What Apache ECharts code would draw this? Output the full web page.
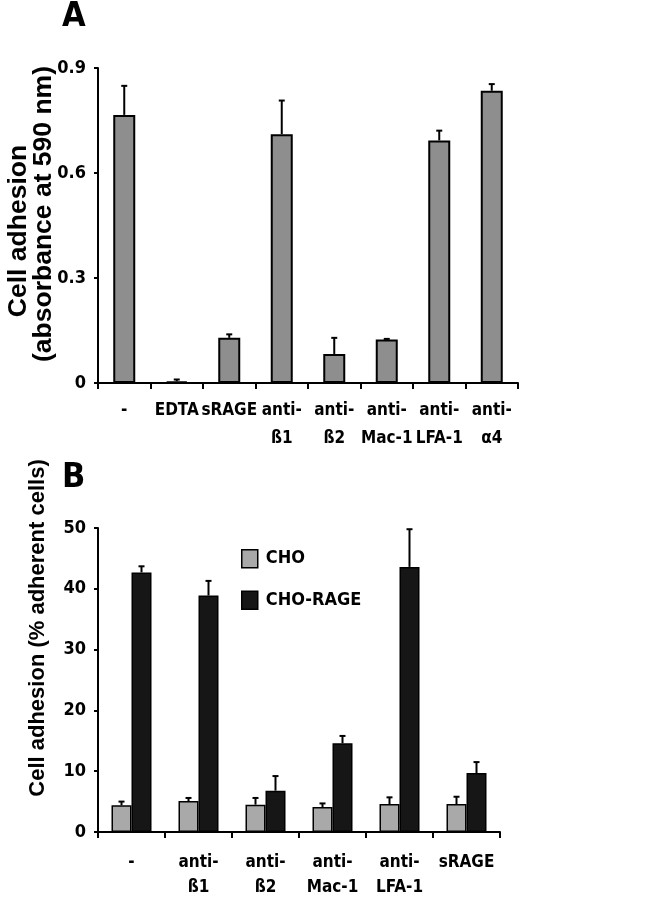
<!DOCTYPE html>
<html>
<head>
<meta charset="utf-8">
<script src="https://cdn.jsdelivr.net/npm/echarts@6/dist/echarts.min.js"></script>
<style>
  html, body { margin: 0; padding: 0; background: #fff; }
  #chart { width: 662px; height: 900px; }
</style>
</head>
<body>
<div id="chart"></div>
<script>
// ---------- Panel A data ----------
const catsA = ['-', 'EDTA', 'sRAGE', 'anti-\nß1', 'anti-\nß2', 'anti-\nMac-1', 'anti-\nLFA-1', 'anti-\nα4'];
const valuesA = [0.766, 0.005, 0.129, 0.711, 0.083, 0.124, 0.693, 0.835];
const errorsA = [0.083, 0.005, 0.010, 0.096, 0.046, 0.002, 0.028, 0.019];
const yMinA = 0, yMaxA = 0.9, yStepA = 0.3;
const yTitleA1 = 'Cell adhesion';
const yTitleA2 = '(absorbance at 590 nm)';

// ---------- Panel B data ----------
const catsB = ['-', 'anti-\nß1', 'anti-\nß2', 'anti-\nMac-1', 'anti-\nLFA-1', 'sRAGE'];
const seriesNamesB = ['CHO', 'CHO-RAGE'];
const valuesCHO = [4.4, 5.1, 4.5, 4.1, 4.6, 4.6];
const errorsCHO = [0.6, 0.5, 1.1, 0.6, 1.1, 1.2];
const valuesRAGE = [42.7, 38.9, 6.8, 14.6, 43.6, 9.7];
const errorsRAGE = [1.0, 2.4, 2.4, 1.2, 6.2, 1.8];
const yMinB = 0, yMaxB = 50, yStepB = 10;
const yTitleB = 'Cell adhesion (% adherent cells)';

// ---------- font detection (condensed face if installed) ----------
function hasFont(name) {
  const ctx = document.createElement('canvas').getContext('2d');
  const t = 'abcdefghijklmnopqrstuvwxyzABCDEFGHIJ0123456789';
  let same = true;
  ['monospace', 'serif'].forEach(function (base) {
    ctx.font = 'bold 40px ' + base;
    const w0 = ctx.measureText(t).width;
    ctx.font = "bold 40px '" + name + "', " + base;
    if (ctx.measureText(t).width !== w0) same = false;
  });
  return !same;
}
let NARROW = "'Liberation Sans', Arial, sans-serif";
let fs = { x: 17, tick: 18, legend: 18, letter: 34 };
if (hasFont('Liberation Sans Narrow')) {
  NARROW = "'Liberation Sans Narrow', 'Liberation Sans', sans-serif";
  fs = { x: 21, tick: 20, legend: 21, letter: 38 };
} else if (hasFont('Arial Narrow')) {
  NARROW = "'Arial Narrow', 'Liberation Sans', sans-serif";
  fs = { x: 21, tick: 20, legend: 21, letter: 38 };
} else if (hasFont('DejaVu Sans Condensed')) {
  NARROW = "'DejaVu Sans Condensed', 'Liberation Sans', sans-serif";
  fs = { x: 17, tick: 18, legend: 18, letter: 34 };
}
const REG = "'Liberation Sans', Arial, sans-serif";

const chart = echarts.init(document.getElementById('chart'), null, { renderer: 'canvas' });

function errRender(offset) {
  return function (params, api) {
    const x = api.value(0), v = api.value(1), e = api.value(2);
    const p0 = api.coord([x, v]);
    const p1 = api.coord([x, v + e]);
    const cx = p0[0] + offset;
    const st = { stroke: '#000', lineWidth: 2 };
    return {
      type: 'group',
      children: [
        { type: 'line', shape: { x1: cx, y1: p0[1], x2: cx, y2: p1[1] }, style: st },
        { type: 'line', shape: { x1: cx - 3, y1: p1[1], x2: cx + 3, y2: p1[1] }, style: st }
      ]
    };
  };
}

const axisLineStyle = { lineStyle: { color: '#000', width: 2 } };
const xLabelA = { color: '#000', fontFamily: NARROW, fontWeight: 'bold', fontSize: fs.x, lineHeight: 28, margin: 14, interval: 0, verticalAlign: 'top' };
const xLabelB = { color: '#000', fontFamily: NARROW, fontWeight: 'bold', fontSize: fs.x, lineHeight: 25, margin: 18, interval: 0, verticalAlign: 'top' };
const yLabel = { color: '#000', fontFamily: NARROW, fontWeight: 'bold', fontSize: fs.tick, margin: 12 };

const option = {
  backgroundColor: '#fff',
  animation: false,
  grid: [
    { left: 98, top: 68, width: 420, height: 315 },
    { left: 98, top: 528, width: 402, height: 304 }
  ],
  xAxis: [
    { type: 'category', gridIndex: 0, data: catsA, boundaryGap: true,
      axisLine: axisLineStyle, axisTick: { show: true, length: 6, lineStyle: { color: '#000', width: 2 } },
      axisLabel: xLabelA, splitLine: { show: false } },
    { type: 'category', gridIndex: 1, data: catsB, boundaryGap: true,
      axisLine: axisLineStyle, axisTick: { show: true, length: 6, lineStyle: { color: '#000', width: 2 } },
      axisLabel: xLabelB, splitLine: { show: false } }
  ],
  yAxis: [
    { type: 'value', gridIndex: 0, min: yMinA, max: yMaxA, interval: yStepA,
      axisLine: { show: true, lineStyle: { color: '#000', width: 2 } },
      axisTick: { show: true, length: 4, lineStyle: { color: '#000', width: 2 } },
      axisLabel: yLabel, splitLine: { show: false } },
    { type: 'value', gridIndex: 1, min: yMinB, max: yMaxB, interval: yStepB,
      axisLine: { show: true, lineStyle: { color: '#000', width: 2 } },
      axisTick: { show: true, length: 4, lineStyle: { color: '#000', width: 2 } },
      axisLabel: yLabel, splitLine: { show: false } }
  ],
  legend: {
    orient: 'vertical', left: 241, top: 549, itemWidth: 16, itemHeight: 18, itemGap: 22,
    padding: 0, icon: 'rect',
    textStyle: { color: '#000', fontFamily: NARROW, fontWeight: 'bold', fontSize: fs.legend, padding: [0, 0, 0, 3] },
    data: [
      { name: seriesNamesB[0], itemStyle: { color: '#a9a9a9', borderColor: '#000', borderWidth: 1.5 } },
      { name: seriesNamesB[1], itemStyle: { color: '#161616', borderColor: '#000', borderWidth: 1.5 } }
    ]
  },
  graphic: [
    { type: 'text', left: 62, top: 0, style: { text: 'A', fontFamily: NARROW, fontWeight: 'bold', fontSize: fs.letter, fill: '#000' } },
    { type: 'text', left: 62, top: 461, style: { text: 'B', fontFamily: NARROW, fontWeight: 'bold', fontSize: fs.letter, fill: '#000' } },
    { type: 'text', x: 19, y: 231, rotation: Math.PI / 2,
      style: { text: yTitleA1, fontFamily: REG, fontWeight: 'bold', fontSize: 26.5, fill: '#000', align: 'center', verticalAlign: 'middle' } },
    { type: 'text', x: 44, y: 214, rotation: Math.PI / 2,
      style: { text: yTitleA2, fontFamily: REG, fontWeight: 'bold', fontSize: 26.5, fill: '#000', align: 'center', verticalAlign: 'middle' } },
    { type: 'text', x: 38, y: 628, rotation: Math.PI / 2,
      style: { text: yTitleB, fontFamily: REG, fontWeight: 'bold', fontSize: 22, fill: '#000', align: 'center', verticalAlign: 'middle' } }
  ],
  series: [
    { type: 'bar', name: 'A', xAxisIndex: 0, yAxisIndex: 0, data: valuesA, barWidth: 22,
      itemStyle: { color: '#8e8e8e', borderColor: '#000', borderWidth: 2 }, z: 2 },
    { type: 'custom', xAxisIndex: 0, yAxisIndex: 0, renderItem: errRender(0), z: 3,
      data: catsA.map((c, i) => [i, valuesA[i], errorsA[i]]) },
    { type: 'bar', name: seriesNamesB[0], xAxisIndex: 1, yAxisIndex: 1, data: valuesCHO, barWidth: 20, barGap: '0%',
      itemStyle: { color: '#a9a9a9', borderColor: '#000', borderWidth: 1.5 }, z: 2 },
    { type: 'bar', name: seriesNamesB[1], xAxisIndex: 1, yAxisIndex: 1, data: valuesRAGE, barWidth: 20, barGap: '0%',
      itemStyle: { color: '#161616', borderColor: '#000', borderWidth: 1.5 }, z: 2 },
    { type: 'custom', xAxisIndex: 1, yAxisIndex: 1, renderItem: errRender(-10), z: 3,
      data: catsB.map((c, i) => [i, valuesCHO[i], errorsCHO[i]]) },
    { type: 'custom', xAxisIndex: 1, yAxisIndex: 1, renderItem: errRender(10), z: 3,
      data: catsB.map((c, i) => [i, valuesRAGE[i], errorsRAGE[i]]) }
  ]
};
chart.setOption(option);
</script>
</body>
</html>
